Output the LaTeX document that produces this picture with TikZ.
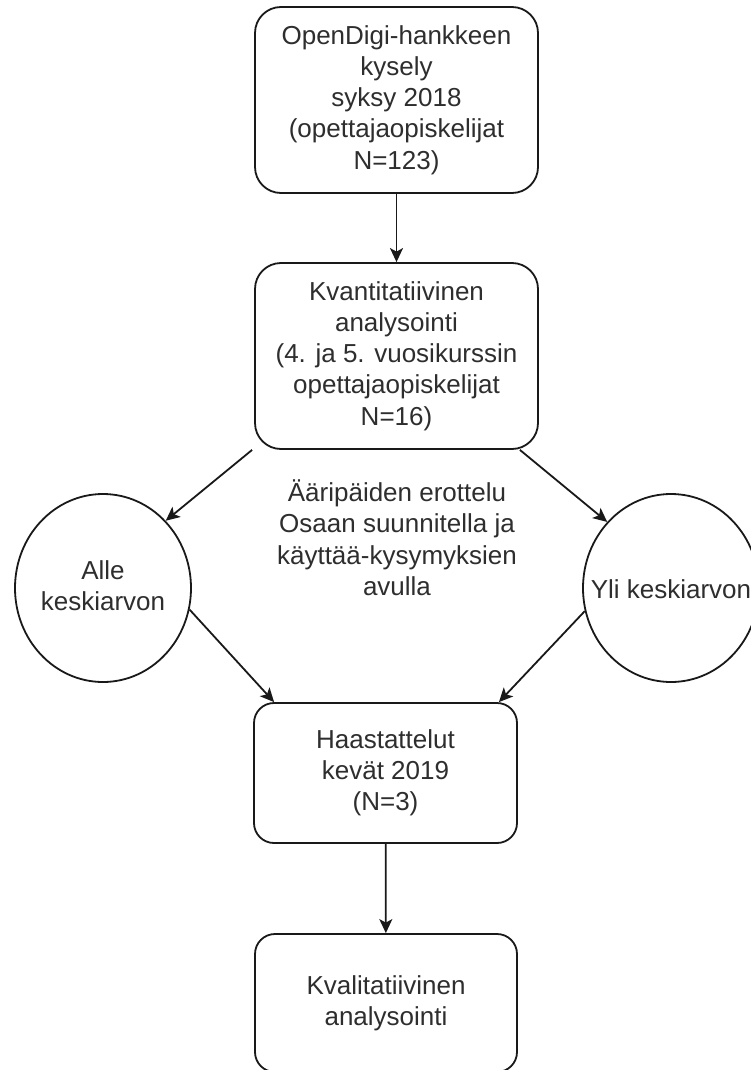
\documentclass[tikz,border=0pt]{standalone}
\usepackage{fontspec}
\setmainfont{Liberation Sans}
\usetikzlibrary{arrows.meta,shapes.geometric}
\newcommand{\mystrut}{\rule[-5.6pt]{0pt}{31.2pt}}
\begin{document}
\begin{tikzpicture}[x=1pt,y=-1pt,
  txt/.style={font=\fontsize{26}{31.2}\selectfont, text=black!82, align=center, inner sep=0pt,
    execute at begin node=\mystrut, execute at end node=\mystrut},
  bigbox/.style={txt, draw=black!90, line width=1.8pt, rounded corners=26pt, minimum width=283pt, minimum height=186pt},
  smallbox/.style={txt, draw=black!90, line width=1.8pt, rounded corners=20pt, minimum width=263pt, minimum height=140pt},
  ell/.style={txt, draw=black!90, ellipse, line width=1.8pt, minimum width=176pt, minimum height=188pt, inner xsep=-20pt, inner ysep=0pt},
  arr/.style={draw=black!90, line width=1.8pt, -{Stealth[length=14pt,width=13pt,inset=3.5pt]}}
]
\fill[white] (0,0) rectangle (751,1070);
\useasboundingbox (0,0) rectangle (751,1070);

\node[bigbox] (b1) at (396.5,100) {OpenDigi-hankkeen\\kysely\\syksy 2018\\(opettajaopiskelijat\\N=123)};
\node[bigbox] (b2) at (396.5,356) {Kvantitatiivinen\\analysointi\\(4. ja 5. vuosikurssin\\opettajaopiskelijat\\N=16)};
\node[ell] (c1) at (103,588) {Alle\\keskiarvon};
\node[ell] (c2) at (671,588) {Yli keskiarvon};
\node[txt] (mid) at (397,540.5) {Ääripäiden erottelu\\Osaan suunnitella ja\\käyttää-kysymyksien\\avulla};
\node[smallbox] (b3) at (385.5,773) {Haastattelut\\kevät 2019\\(N=3)};
\node[smallbox, minimum width=262pt, minimum height=138pt] (b4) at (386,1003) {Kvalitatiivinen\\analysointi};

\draw[arr] (b1) -- (b2);
\draw[arr] ([xshift=-2pt]b2.south west) -- (c1.47);
\draw[arr] ([xshift=-19pt]b2.south east) -- (c2.134);
\draw[arr] (c1.-14) -- ([xshift=21pt]b3.north west);
\draw[arr] (c2.195) -- ([xshift=-19pt]b3.north east);
\draw[arr] (b3) -- (b4);
\end{tikzpicture}
\end{document}
